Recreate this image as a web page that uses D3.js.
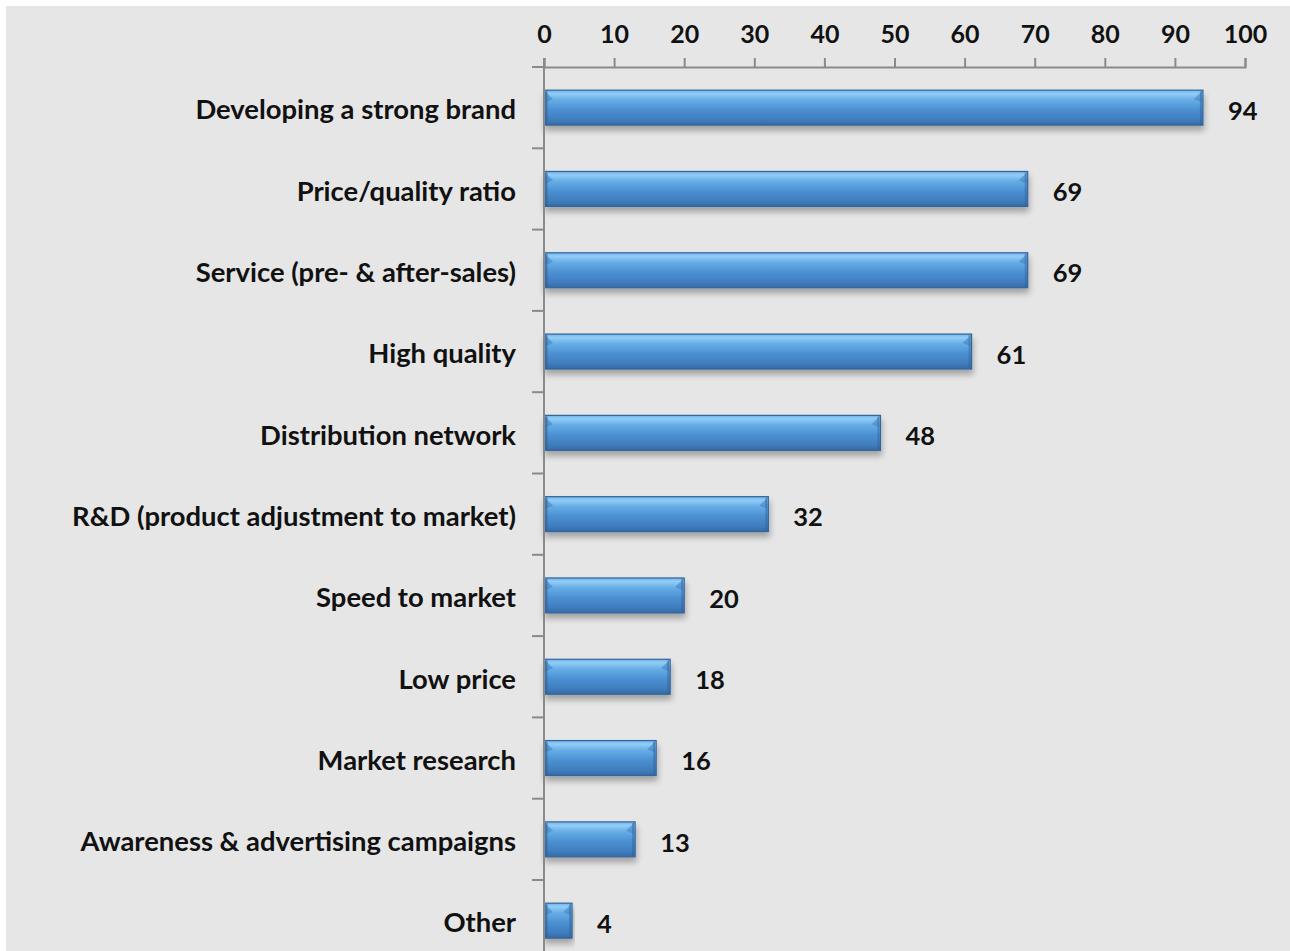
<!DOCTYPE html>
<html>
<head>
<meta charset="utf-8">
<script src="https://cdn.jsdelivr.net/npm/d3@7"></script>
<style>
  html, body { margin: 0; padding: 0; background: #ffffff; }
  svg { display: block; }
  text { font-family: Lato, "Open Sans", sans-serif; font-weight: 700; fill: #111; }
</style>
</head>
<body>
<svg id="chart" width="1290" height="951"></svg>
<script>
// Competitive factors, share of respondents (%)
const categories = [
  "Developing a strong brand",
  "Price/quality ratio",
  "Service (pre- & after-sales)",
  "High quality",
  "Distribution network",
  "R&D (product adjustment to market)",
  "Speed to market",
  "Low price",
  "Market research",
  "Awareness & advertising campaigns",
  "Other"
];
const values = [94, 69, 69, 61, 48, 32, 20, 18, 16, 13, 4];
const xTicks = [0, 10, 20, 30, 40, 50, 60, 70, 80, 90, 100];

const W = 1290, H = 951;
const svg = d3.select("#chart");

// panel background
svg.append("rect").attr("x", 6).attr("y", 6).attr("width", W - 6).attr("height", H - 6).attr("fill", "#e6e6e6");

const x0 = 544, x1 = 1245, yTop = 67, step = 81.3;
const x = d3.scaleLinear().domain([0, 100]).range([x0, x1]);
const y = d3.scaleBand().domain(categories)
  .range([yTop, yTop + step * categories.length])
  .paddingInner(0.57).paddingOuter(0.285);

const defs = svg.append("defs");
const grad = defs.append("linearGradient").attr("id", "barGrad")
  .attr("x1", 0).attr("y1", 0).attr("x2", 0).attr("y2", 1);
[[0, "#6fb2ea"], [0.1, "#92cdf7"], [0.28, "#66ade6"], [0.55, "#4c91d3"], [0.85, "#3f7cbd"], [1, "#356aa3"]]
  .forEach(([o, c]) => grad.append("stop").attr("offset", o).attr("stop-color", c));

const shadow = defs.append("filter").attr("id", "shadow")
  .attr("x", "-5%").attr("y", "-30%").attr("width", "115%").attr("height", "180%");
shadow.append("feGaussianBlur").attr("in", "SourceAlpha").attr("stdDeviation", 3).attr("result", "blur");
shadow.append("feOffset").attr("in", "blur").attr("dx", 1).attr("dy", 5).attr("result", "off");
shadow.append("feComponentTransfer").attr("in", "off").attr("result", "offA")
  .append("feFuncA").attr("type", "linear").attr("slope", 0.3);
const merge = shadow.append("feMerge");
merge.append("feMergeNode").attr("in", "offA");
merge.append("feMergeNode").attr("in", "SourceGraphic");

// bars
const bars = svg.append("g").selectAll("g").data(categories).join("g");
bars.append("rect")
  .attr("x", x(0))
  .attr("y", d => y(d))
  .attr("width", (d, i) => x(values[i]) - x(0))
  .attr("height", y.bandwidth())
  .attr("fill", "url(#barGrad)")
  .attr("stroke", "#33649b")
  .attr("stroke-width", 1.2)
  .attr("filter", "url(#shadow)");

// soft bevel: darker wedges at both ends of the top highlight
const bev = 8;
bars.append("path")
  .attr("fill", "#3f7dbf").attr("opacity", 0.55)
  .attr("d", (d, i) => {
    const t = y(d) + 1, l = x(0) + 1, r = x(values[i]) - 1;
    const w = Math.min(bev, (r - l) / 2);
    return `M${l},${t}L${l + w},${t + w}L${l},${t + w * 1.4}Z` +
           `M${r},${t}L${r - w},${t + w}L${r},${t + w * 1.4}Z`;
  });
bars.append("rect")
  .attr("x", x(0) + 1).attr("y", d => y(d) + 1)
  .attr("width", 2.5).attr("height", y.bandwidth() - 2)
  .attr("fill", "#2f5f96").attr("opacity", 0.6);
bars.append("rect")
  .attr("x", (d, i) => x(values[i]) - 3).attr("y", d => y(d) + 1)
  .attr("width", 2).attr("height", y.bandwidth() - 2)
  .attr("fill", "#2f5f96").attr("opacity", 0.45);

// value labels
svg.append("g").selectAll("text").data(categories).join("text")
  .attr("x", (d, i) => x(values[i]) + 25)
  .attr("y", d => y(d) + y.bandwidth() / 2 + 3)
  .attr("dy", "0.36em")
  .attr("font-size", 25.5)
  .text((d, i) => values[i]);

// top axis
const xAxis = svg.append("g").attr("transform", `translate(0,${yTop})`)
  .call(d3.axisTop(x).tickValues(xTicks).tickSize(9).tickPadding(15).tickFormat(d3.format("d")));
xAxis.select(".domain").attr("stroke", "#8a8a8a").attr("stroke-width", 2);
xAxis.selectAll(".tick line").attr("stroke", "#8a8a8a").attr("stroke-width", 2);
xAxis.selectAll(".tick text").attr("font-size", 25).attr("fill", "#111")
  .attr("font-family", "Lato, 'Open Sans', sans-serif").attr("font-weight", 700);

// left axis: category labels with ticks on band boundaries
const yAxis = svg.append("g").attr("transform", `translate(${x0},3)`)
  .call(d3.axisLeft(y).tickSize(0).tickPadding(28));
yAxis.select(".domain").remove();
yAxis.selectAll(".tick text").attr("font-size", 27.4).attr("fill", "#111")
  .attr("font-family", "Lato, 'Open Sans', sans-serif").attr("font-weight", 700);

svg.append("line").attr("x1", x0).attr("x2", x0).attr("y1", yTop - 9).attr("y2", H)
  .attr("stroke", "#8a8a8a").attr("stroke-width", 2);
svg.append("g").selectAll("line").data(categories).join("line")
  .attr("x1", x0 - 12).attr("x2", x0)
  .attr("y1", d => y(d) - y.step() * y.paddingInner() / 2)
  .attr("y2", d => y(d) - y.step() * y.paddingInner() / 2)
  .attr("stroke", "#8a8a8a").attr("stroke-width", 2);
</script>
</body>
</html>
